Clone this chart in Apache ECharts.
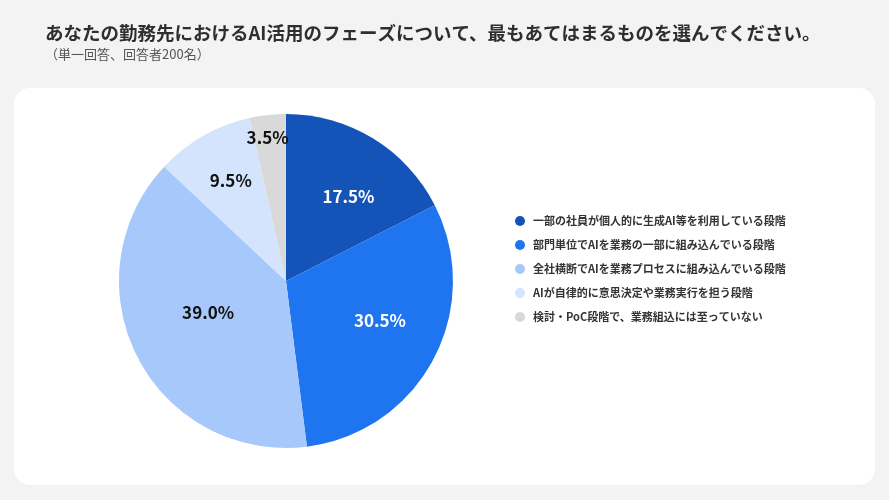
<!DOCTYPE html>
<html>
<head>
<meta charset="utf-8">
<style>
  html, body { margin: 0; padding: 0; background: #f3f3f3; }
  #main { width: 889px; height: 500px; }
</style>
<script src="https://cdn.jsdelivr.net/npm/echarts@6/dist/echarts.min.js"></script>
</head>
<body>
<div id="main"></div>
<script>
// data
const categories = [
  '一部の社員が個人的に生成AI等を利用している段階',
  '部門単位でAIを業務の一部に組み込んでいる段階',
  '全社横断でAIを業務プロセスに組み込んでいる段階',
  'AIが自律的に意思決定や業務実行を担う段階',
  '検討・PoC段階で、業務組込には至っていない'
];
const shares = [17.5, 30.5, 39.0, 9.5, 3.5];

// styling
const sliceColors = ['#1453b7', '#1f75ef', '#a6c8fa', '#d4e4fd', '#d9d9d9'];
const labelColors = ['#ffffff', '#ffffff', '#111111', '#111111', '#111111'];
const labelDist = [105, 102, 84, 115, 145];
const labelTurn = [5, -5, 5, 1, -1]; // degrees, clockwise
const pieCenter = [286, 281];
const pieRadius = 167;
const font = '"Noto Sans CJK JP", "Noto Sans", sans-serif';

const chart = echarts.init(document.getElementById('main'));

chart.setOption({
  backgroundColor: '#f3f3f3',
  animation: false,
  textStyle: { fontFamily: font },
  graphic: [{
    type: 'rect',
    z: -10,
    silent: true,
    shape: { x: 14, y: 88, width: 861, height: 397, r: 16 },
    style: { fill: '#ffffff' }
  }],
  title: {
    text: 'あなたの勤務先におけるAI活用のフェーズについて、最もあてはまるものを選んでください。',
    subtext: '（単一回答、回答者200名）',
    left: 40,
    top: 19,
    itemGap: 5,
    textStyle: { fontFamily: font, fontSize: 18.5, fontWeight: 'bold', color: '#2e2e2e' },
    subtextStyle: { fontFamily: font, fontSize: 13, color: '#555555' }
  },
  legend: {
    orient: 'vertical',
    left: 510,
    top: 209,
    icon: 'circle',
    itemWidth: 16,
    itemHeight: 10,
    itemGap: 10,
    selectedMode: false,
    textStyle: { fontFamily: font, fontSize: 11, fontWeight: 'bold', color: '#333333', lineHeight: 14 },
    data: categories
  },
  series: [{
    type: 'pie',
    center: pieCenter,
    radius: [0, pieRadius],
    startAngle: 90,
    clockwise: true,
    silent: true,
    emphasis: { disabled: true },
    itemStyle: { borderWidth: 0 },
    label: {
      show: true,
      position: 'inside',
      fontFamily: font,
      fontSize: 17,
      fontWeight: 'bold',
      formatter: p => p.value.toFixed(1) + '%'
    },
    labelLine: { show: false },
    labelLayout: function (p) {
      const r = p.labelRect;
      const vx = r.x + r.width / 2 - pieCenter[0];
      const vy = r.y + r.height / 2 - pieCenter[1];
      const len = Math.sqrt(vx * vx + vy * vy) || 1;
      const a = labelTurn[p.dataIndex] * Math.PI / 180;
      const s = labelDist[p.dataIndex] / len;
      const nx = (vx * Math.cos(a) - vy * Math.sin(a)) * s;
      const ny = (vx * Math.sin(a) + vy * Math.cos(a)) * s;
      return { dx: nx - vx, dy: ny - vy };
    },
    data: categories.map((name, i) => ({
      name: name,
      value: shares[i],
      itemStyle: { color: sliceColors[i] },
      label: { color: labelColors[i] }
    }))
  }]
});
</script>
</body>
</html>
